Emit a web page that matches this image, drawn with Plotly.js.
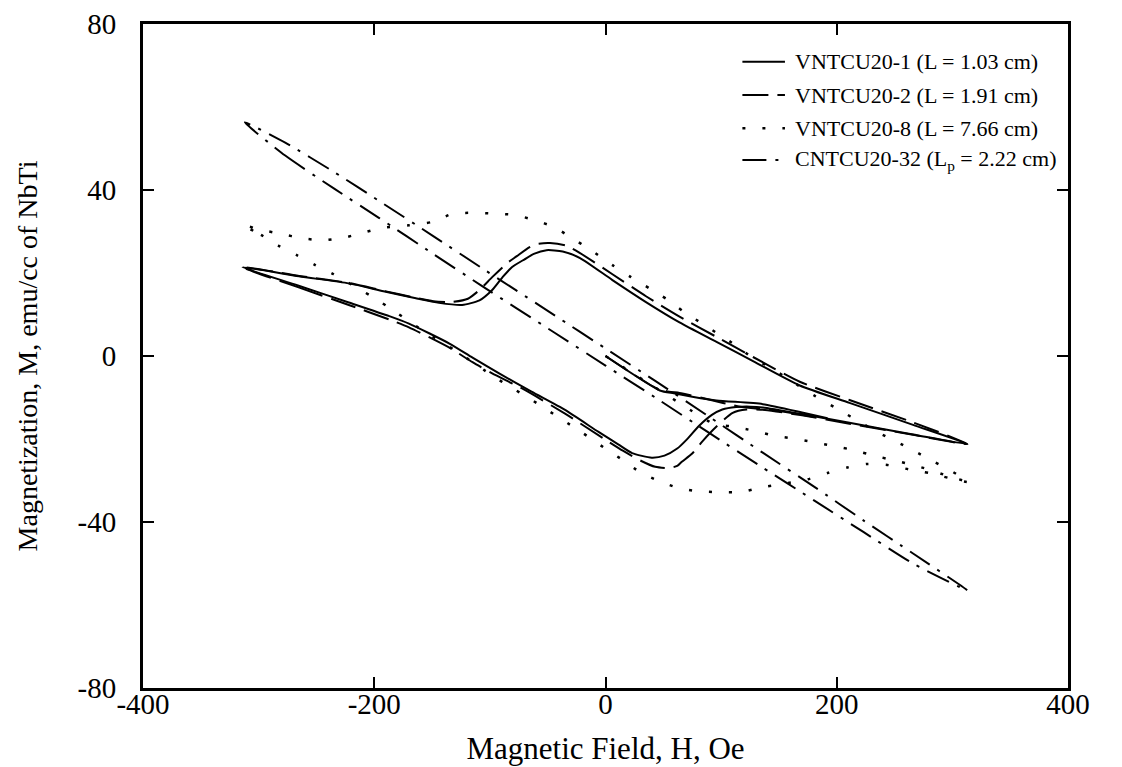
<!DOCTYPE html>
<html>
<head>
<meta charset="utf-8">
<script src="https://cdn.plot.ly/plotly-3.0.1.min.js"></script>
<style>
  html, body { margin: 0; padding: 0; background: #fff; }
  #chart { width: 1122px; height: 767px; }
</style>
</head>
<body>
<div id="chart"></div>
<script>
// Magnetization loops of NbTi composite samples, M (emu/cc of NbTi) vs applied field H (Oe).

// VNTCU20-1 (L = 1.03 cm) — solid
const v1DownH = [313, 266, 211, 168, 128, 96, 64, 35, 6, -22, -37, -51, -62, -70, -81, -89, -98, -109, -124, -144, -164, -192, -222, -265, -314];
const v1DownM = [-21.2, -16.6, -11.3, -7.1, -1.3, 3.4, 8.1, 13.0, 18.3, 23.6, 25.2, 25.5, 24.6, 23.3, 21.4, 19.0, 15.9, 13.4, 12.3, 12.8, 13.9, 15.6, 17.5, 19.2, 21.4];
const v1UpH = [-314, -266, -222, -187, -170, -135, -115, -92, -64, -35, -6, 11, 23, 40, 51, 62, 70, 81, 92, 101, 113, 125, 136, 170, 211, 266, 313];
const v1UpM = [21.4, 17.0, 12.9, 9.6, 7.8, 3.0, -0.4, -4.2, -8.6, -13.0, -18.3, -21.3, -23.4, -24.5, -24.0, -22.3, -20.2, -16.8, -14.2, -12.9, -12.3, -12.2, -12.4, -14.0, -16.1, -18.9, -21.2];
const v1VirginH = [0, 47, 59, 75, 96, 136, 170, 192];
const v1VirginM = [0, -8.3, -9.0, -9.8, -10.7, -11.6, -13.6, -15.0];

// VNTCU20-2 (L = 1.91 cm) — long dash
const v2DownH = [313, 266, 211, 168, 128, 96, 64, 35, 6, -22, -34, -48, -59, -66, -77, -85, -98, -109, -119, -133, -149, -164, -192, -222, -265, -314];
const v2DownM = [-21.2, -16.0, -10.6, -6.2, -0.3, 4.6, 9.5, 14.4, 19.7, 24.8, 26.6, 27.2, 27.0, 26.2, 24.0, 22.4, 19.0, 15.9, 13.8, 13.0, 13.2, 14.0, 15.7, 17.6, 19.3, 21.4];
const v2UpH = [-314, -266, -222, -187, -170, -135, -115, -98, -71, -35, -1, 15, 31, 43, 55, 62, 66, 75, 84, 96, 110, 122, 138, 170, 211, 266, 313];
const v2UpM = [21.4, 16.6, 12.3, 8.8, 6.9, 2.0, -1.5, -4.2, -8.0, -13.9, -20.0, -22.8, -25.3, -26.7, -27.0, -26.5, -25.5, -23.5, -20.5, -17.0, -13.7, -12.9, -13.0, -14.3, -16.3, -19.0, -21.2];
const v2VirginH = [0, 43, 55, 64, 85, 118, 149, 181];
const v2VirginM = [0, -7.6, -8.6, -8.9, -10.2, -12.3, -13.2, -14.7];

// VNTCU20-8 (L = 7.66 cm) — dotted
const v8DownH = [314, 299, 283, 267, 252, 235, 220, 204, 181, 160, 144, 127, 113, 97, 83, 67, 53, 38, 22, 6, -14, -29, -44, -62, -79, -96, -115, -132, -150, -170, -193, -211, -228, -245, -263, -280, -298, -314];
const v8DownM = [-30.4, -27.7, -25.3, -22.9, -20.7, -18.3, -15.9, -13.3, -9.6, -5.9, -3.0, -0.4, 2.5, 5.4, 7.9, 10.8, 13.7, 16.3, 19.0, 21.9, 25.8, 28.4, 31.0, 32.8, 34.0, 34.3, 34.5, 34.3, 32.3, 31.5, 30.9, 29.6, 28.4, 27.9, 28.4, 29.4, 30.4, 31.6];
const v8UpH = [-314, -298, -283, -267, -251, -235, -219, -203, -189, -160, -128, -97, -82, -67, -52, -36, -21, -6, 15, 30, 46, 63, 80, 97, 117, 134, 154, 175, 192, 210, 227, 245, 262, 280, 297, 314];
const v8UpM = [31.6, 29.2, 26.6, 24.3, 21.9, 19.7, 17.1, 14.5, 12.0, 6.5, 1.0, -4.9, -7.5, -10.0, -12.7, -15.6, -18.3, -21.2, -25.1, -28.0, -30.1, -31.8, -32.6, -32.8, -32.8, -31.7, -30.8, -29.7, -28.2, -26.8, -26.0, -26.3, -27.3, -28.2, -29.4, -30.4];
const v8VirginH = [0, 43, 75, 94, 108, 128, 146, 158, 175, 192, 210, 227, 244, 262, 279, 296, 314];
const v8VirginM = [0, -7.6, -13.3, -16.4, -16.9, -18.0, -19.2, -19.7, -20.5, -21.4, -22.4, -23.6, -24.8, -26.0, -27.3, -28.9, -30.4];

// CNTCU20-32 (Lp = 2.22 cm) — dash-dot
const c32UpH = [-312, -277, -234, -196, -149, -107, -44, 0, 43, 90, 136, 181, 223, 266, 313];
const c32UpM = [56.3, 48.3, 40.2, 33.3, 24.6, 16.9, 5.6, -2.3, -10.0, -18.6, -26.9, -34.9, -42.4, -50.0, -56.5];
const c32DownH = [313, 266, 223, 181, 136, 90, 43, 0, -44, -107, -149, -196, -234, -277, -312];
const c32DownM = [-56.5, -47.6, -39.6, -31.6, -23.3, -14.7, -6.0, 1.8, 9.8, 21.2, 28.9, 37.4, 44.2, 51.4, 56.3];

// Legend labels
const seriesNames = [
  'VNTCU20-1 (L = 1.03 cm)',
  'VNTCU20-2 (L = 1.91 cm)',
  'VNTCU20-8 (L = 7.66 cm)',
  'CNTCU20-32 (L<sub>p</sub> = 2.22 cm)'
];

// Axis ticks
const xTicks = [-400, -200, 0, 200, 400];
const yTicks = [-80, -40, 0, 40, 80];

const FONT = 'Liberation Serif, Times New Roman, serif';
const dashes = ['solid', '26px,9px', '3px,17px', '24px,9px,3px,9px'];
const widths = [2, 2, 2.5, 2];

function loop(downH, downM, upH, upM) {
  // increasing-field branch, then back along the decreasing-field branch
  return { x: upH.concat(downH.slice(1)), y: upM.concat(downM.slice(1)) };
}

const loops = [
  loop(v1DownH, v1DownM, v1UpH, v1UpM),
  loop(v2DownH, v2DownM, v2UpH, v2UpM),
  loop(v8DownH, v8DownM, v8UpH, v8UpM),
  loop(c32DownH, c32DownM, c32UpH, c32UpM)
];
const virgins = [
  { x: v1VirginH, y: v1VirginM, k: 0 },
  { x: v2VirginH, y: v2VirginM, k: 1 },
  { x: v8VirginH, y: v8VirginM, k: 2 }
];

const traces = [];
loops.forEach((d, k) => {
  traces.push({
    type: 'scatter', mode: 'lines', x: d.x, y: d.y, name: seriesNames[k],
    line: { color: '#000', width: widths[k], dash: dashes[k], shape: 'spline', smoothing: 0.6 },
    showlegend: false, hoverinfo: 'skip'
  });
});
virgins.forEach(d => {
  traces.push({
    type: 'scatter', mode: 'lines', x: d.x, y: d.y, name: seriesNames[d.k],
    line: { color: '#000', width: widths[d.k], dash: dashes[d.k], shape: 'spline', smoothing: 0.6 },
    showlegend: false, hoverinfo: 'skip'
  });
});

// Legend: sample line + label per series (paper coordinates)
const legX0 = 0.648, legX1 = 0.694, legTextX = 0.703;
const legY = [0.943, 0.893, 0.843, 0.795];
const shapes = [];
const annotations = [];
seriesNames.forEach((name, k) => {
  shapes.push({
    type: 'line', xref: 'paper', yref: 'paper',
    x0: legX0, x1: legX1, y0: legY[k], y1: legY[k],
    line: { color: '#000', width: widths[k], dash: dashes[k] }
  });
  annotations.push({
    xref: 'paper', yref: 'paper', x: legTextX, y: legY[k],
    xanchor: 'left', yanchor: 'middle', showarrow: false,
    text: name, font: { family: FONT, size: 22, color: '#000' }
  });
});

const axisCommon = {
  showgrid: false, zeroline: false, showline: true, mirror: 'ticks',
  linecolor: '#000', linewidth: 3, ticks: 'inside', ticklen: 11, tickwidth: 2,
  tickcolor: '#000', tickfont: { family: FONT, size: 29, color: '#000' }
};

const layout = {
  width: 1122, height: 767,
  margin: { l: 143, r: 54, t: 24, b: 79 },
  paper_bgcolor: '#fff', plot_bgcolor: '#fff',
  showlegend: false,
  xaxis: Object.assign({}, axisCommon, {
    range: [-400, 400], tickvals: xTicks, ticktext: xTicks.map(String),
    ticklabelstandoff: -12,
    title: { text: 'Magnetic Field, H, Oe', font: { family: FONT, size: 31, color: '#000' }, standoff: 19 }
  }),
  yaxis: Object.assign({}, axisCommon, {
    range: [-80, 80], tickvals: yTicks, ticktext: yTicks.map(String),
    ticklabelstandoff: 18,
    title: { text: 'Magnetization, M, emu/cc of NbTi', font: { family: FONT, size: 28, color: '#000' }, standoff: 32 }
  }),
  shapes: shapes,
  annotations: annotations
};

Plotly.newPlot('chart', traces, layout, { staticPlot: true, displayModeBar: false });
</script>
</body>
</html>
